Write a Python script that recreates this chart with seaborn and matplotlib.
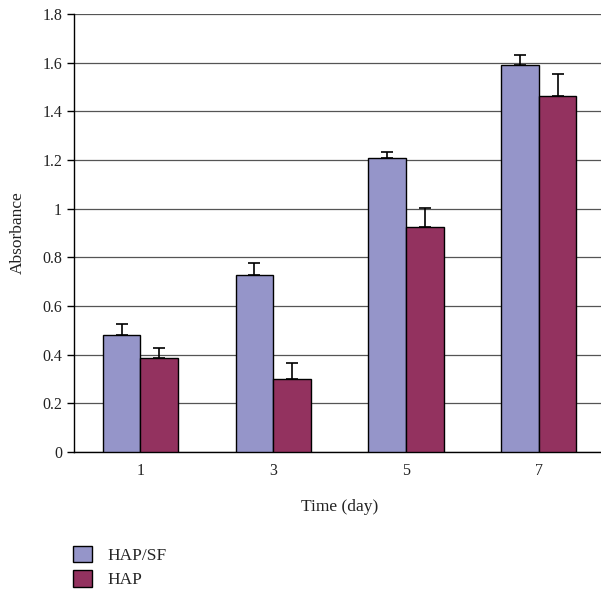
import matplotlib
matplotlib.use("Agg")
import matplotlib.pyplot as plt
import seaborn as sns
import pandas as pd
import numpy as np
from matplotlib.patches import Patch

days = ["1", "3", "5", "7"]
series = ["HAP/SF", "HAP"]
hap_sf = [0.48, 0.727, 1.208, 1.59]
hap_sf_err = [0.048, 0.05, 0.026, 0.04]
hap = [0.386, 0.30, 0.926, 1.462]
hap_err = [0.042, 0.066, 0.075, 0.09]
yticks = [0, 0.2, 0.4, 0.6, 0.8, 1.0, 1.2, 1.4, 1.6, 1.8]
ytick_labels = ["0", "0.2", "0.4", "0.6", "0.8", "1", "1.2", "1.4", "1.6", "1.8"]
colors = ["#9595C9", "#93325F"]

df = pd.DataFrame({
    "Time": days * 2,
    "Series": [series[0]] * 4 + [series[1]] * 4,
    "Absorbance": hap_sf + hap,
    "err": hap_sf_err + hap_err,
})

sns.set_style("white")
plt.rcParams["font.family"] = ["Liberation Serif", "DejaVu Serif"]

fig = plt.figure(figsize=(6.01, 6.02), dpi=100)
ax = fig.add_axes([0.123, 0.249, 0.884, 0.728])

sns.barplot(data=df, x="Time", y="Absorbance", hue="Series", order=days,
            hue_order=series, palette=colors, saturation=1, width=0.566,
            errorbar=None, edgecolor="black", linewidth=1.0, ax=ax,
            legend=False, zorder=3)

# error bars (upper only), positioned from the drawn bars
for container, errs in zip(ax.containers, [hap_sf_err, hap_err]):
    xs = [p.get_x() + p.get_width() / 2 for p in container.patches]
    ys = [p.get_height() for p in container.patches]
    ax.errorbar(xs, ys, yerr=[np.zeros(len(errs)), errs], fmt="none",
                ecolor="black", elinewidth=1.2, capsize=4.5, capthick=1.2,
                zorder=2)

ax.set_ylim(0, 1.8)
ax.set_xlim(-0.5, 3.5)
ax.set_yticks(yticks)
ax.set_yticklabels(ytick_labels)
ax.yaxis.grid(True, color="#555555", linewidth=0.9, zorder=0)
ax.set_axisbelow(True)
for s in ["top", "right"]:
    ax.spines[s].set_visible(False)
for s in ["left", "bottom"]:
    ax.spines[s].set_color("black")
    ax.spines[s].set_linewidth(1.0)

ax.set_xticks([0, 1, 2, 3])
ax.set_xticks([0.5, 1.5, 2.5], minor=True)
ax.tick_params(axis="x", which="major", length=0, labelsize=11.5, pad=8, colors="#222222")
ax.tick_params(axis="x", which="minor", length=6, direction="in", color="black", width=1)
ax.tick_params(axis="y", which="major", length=5, direction="out", width=1,
               left=True, labelsize=11.5, labelcolor="#222222", color="black")

ax.set_xlabel("Time (day)", fontsize=12.5, labelpad=14, color="#222222")
ax.set_ylabel("Absorbance", fontsize=12.5, labelpad=12, color="#222222")

handles = [Patch(facecolor=c, edgecolor="black", linewidth=1.0, label=l)
           for c, l in zip(colors, series)]
fig.legend(handles=handles, loc="upper left", bbox_to_anchor=(0.11, 0.105),
           frameon=False, fontsize=12.5, handlelength=1.1, handleheight=1.1,
           handletextpad=0.9, labelspacing=0.35, borderaxespad=0)

fig.savefig("out.png", dpi=100)
